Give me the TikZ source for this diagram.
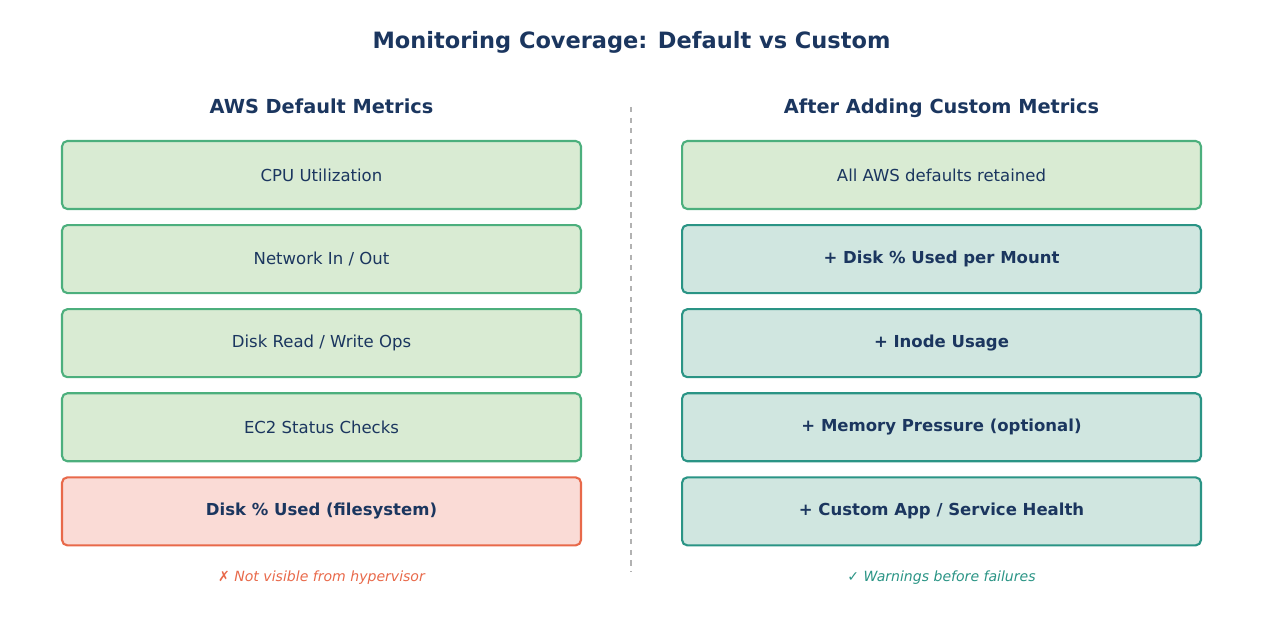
\documentclass[tikz,border=0pt]{standalone}
\usepackage{fontspec}
\setmainfont{DejaVu Sans}
\usetikzlibrary{positioning}
\definecolor{navy}{HTML}{1B365F}
\definecolor{gfill}{HTML}{D9EBD3}
\definecolor{gline}{HTML}{4CAF7D}
\definecolor{rfill}{HTML}{FADBD6}
\definecolor{rline}{HTML}{E8694A}
\definecolor{tfill}{HTML}{D0E6E0}
\definecolor{tline}{HTML}{2A9485}
\begin{document}
\begin{tikzpicture}[x=0.02cm, y=-0.02cm, node distance=0.28cm,
  box/.style={rectangle, rounded corners=3pt, line width=1.2pt, minimum width=10.38cm, minimum height=1.36cm, text=navy, font=\fontsize{9.4}{11}\selectfont},
  def/.style={box, draw=gline, fill=gfill},
  miss/.style={box, draw=rline, fill=rfill, font=\fontsize{9.4}{11}\selectfont\bfseries},
  add/.style={box, draw=tline, fill=tfill, font=\fontsize{9.4}{11}\selectfont\bfseries},
  head/.style={text=navy, text height=8pt, text depth=2pt, font=\fontsize{11}{13}\selectfont\bfseries},
  note/.style={font=\fontsize{8}{9}\selectfont\itshape}]
  \useasboundingbox (0,0) rectangle (1263,631);
  \node[text=navy, font=\fontsize{12.8}{15}\selectfont\bfseries] (title) at (631.5,42) {Monitoring Coverage: Default vs Custom};
  \node[head] (lhead) at (321.5,108) {AWS Default Metrics};
  \node[head] (rhead) at (941.5,108) {After Adding Custom Metrics};
  % left column
  \node[def] (L1) at (321.5,175) {CPU Utilization};
  \node[def, below=of L1] (L2) {Network In / Out};
  \node[def, below=of L2] (L3) {Disk Read / Write Ops};
  \node[def, below=of L3] (L4) {EC2 Status Checks};
  \node[miss, below=of L4] (L5) {Disk \% Used (filesystem)};
  \node[note, text=rline] (lnote) at (321.5,578) {✗ Not visible from hypervisor};
  % right column
  \node[def] (R1) at (941.5,175) {All AWS defaults retained};
  \node[add, below=of R1] (R2) {+ Disk \% Used per Mount};
  \node[add, below=of R2] (R3) {+ Inode Usage};
  \node[add, below=of R3] (R4) {+ Memory Pressure (optional)};
  \node[add, below=of R4] (R5) {+ Custom App / Service Health};
  \node[note, text=tline] (rnote) at (941.5,578) {✓ Warnings before failures};
  % divider
  \coordinate (dtop) at (631,107);
  \coordinate (dbot) at (631,572);
  \draw[gray!60, dashed, line width=0.6pt] (dtop) -- (dbot);
\end{tikzpicture}
\end{document}
